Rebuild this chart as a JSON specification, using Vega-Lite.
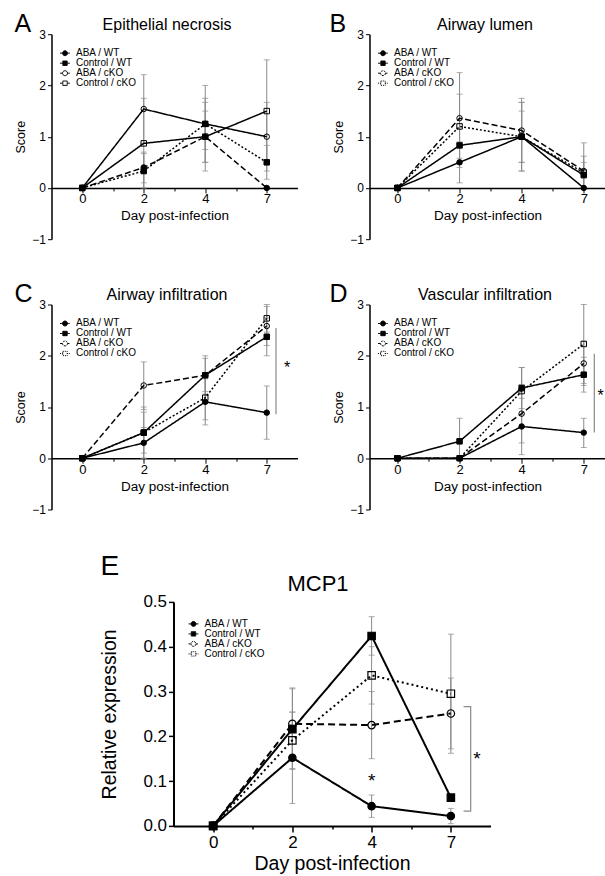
{
  "$schema": "https://vega.github.io/schema/vega-lite/v6.json",
  "padding": {"left": 14.5, "top": 11.2, "right": 0, "bottom": 0},
  "autosize": {"type": "pad"},
  "config": {
    "font": "Liberation Sans",
    "view": {"stroke": null},
    "axis": {"grid": false, "domainColor": "black", "tickColor": "black", "labelColor": "black", "titleColor": "black", "titleFontWeight": "normal", "labelFont": "Liberation Sans", "titleFont": "Liberation Sans", "labelOverlap": false},
    "legend": {"labelFont": "Liberation Sans", "labelColor": "black", "padding": 0},
    "title": {"fontWeight": "normal", "color": "black", "font": "Liberation Sans"}
  },
  "datasets": {
    "A": [
      {"series": "ABA / WT", "day": 0, "idx": 0, "score": 0},
      {"series": "ABA / WT", "day": 2, "idx": 1, "score": 0.40, "lo": 0.10, "hi": 0.70},
      {"series": "ABA / WT", "day": 4, "idx": 2, "score": 1.00, "lo": 0.33, "hi": 1.67},
      {"series": "ABA / WT", "day": 7, "idx": 3, "score": 0.00},
      {"series": "Control / WT", "day": 0, "idx": 0, "score": 0},
      {"series": "Control / WT", "day": 2, "idx": 1, "score": 0.33, "lo": 0.00, "hi": 0.67},
      {"series": "Control / WT", "day": 4, "idx": 2, "score": 1.25, "lo": 0.50, "hi": 2.00},
      {"series": "Control / WT", "day": 7, "idx": 3, "score": 0.50, "lo": 0.17, "hi": 0.83},
      {"series": "ABA / cKO", "day": 0, "idx": 0, "score": 0},
      {"series": "ABA / cKO", "day": 2, "idx": 1, "score": 1.54, "lo": 0.87, "hi": 2.21},
      {"series": "ABA / cKO", "day": 4, "idx": 2, "score": 1.25, "lo": 0.75, "hi": 1.75},
      {"series": "ABA / cKO", "day": 7, "idx": 3, "score": 1.00, "lo": 0.33, "hi": 1.67},
      {"series": "Control / cKO", "day": 0, "idx": 0, "score": 0},
      {"series": "Control / cKO", "day": 2, "idx": 1, "score": 0.87, "lo": 0.00, "hi": 1.75},
      {"series": "Control / cKO", "day": 4, "idx": 2, "score": 1.00, "lo": 0.50, "hi": 1.50},
      {"series": "Control / cKO", "day": 7, "idx": 3, "score": 1.50, "lo": 0.50, "hi": 2.50}
    ],
    "B": [
      {"series": "ABA / WT", "day": 0, "idx": 0, "score": 0},
      {"series": "ABA / WT", "day": 2, "idx": 1, "score": 0.50, "lo": 0.10, "hi": 0.90},
      {"series": "ABA / WT", "day": 4, "idx": 2, "score": 1.00, "lo": 0.33, "hi": 1.67},
      {"series": "ABA / WT", "day": 7, "idx": 3, "score": 0.00},
      {"series": "Control / WT", "day": 0, "idx": 0, "score": 0},
      {"series": "Control / WT", "day": 2, "idx": 1, "score": 0.83, "lo": 0.40, "hi": 1.26},
      {"series": "Control / WT", "day": 4, "idx": 2, "score": 1.00, "lo": 0.50, "hi": 1.50},
      {"series": "Control / WT", "day": 7, "idx": 3, "score": 0.25, "lo": 0.00, "hi": 0.50},
      {"series": "ABA / cKO", "day": 0, "idx": 0, "score": 0},
      {"series": "ABA / cKO", "day": 2, "idx": 1, "score": 1.36, "lo": 0.47, "hi": 2.25},
      {"series": "ABA / cKO", "day": 4, "idx": 2, "score": 1.12, "lo": 0.50, "hi": 1.75},
      {"series": "ABA / cKO", "day": 7, "idx": 3, "score": 0.33, "lo": 0.00, "hi": 0.88},
      {"series": "Control / cKO", "day": 0, "idx": 0, "score": 0},
      {"series": "Control / cKO", "day": 2, "idx": 1, "score": 1.20, "lo": 0.58, "hi": 1.83},
      {"series": "Control / cKO", "day": 4, "idx": 2, "score": 1.00, "lo": 0.33, "hi": 1.67},
      {"series": "Control / cKO", "day": 7, "idx": 3, "score": 0.30, "lo": 0.00, "hi": 0.62}
    ],
    "C": [
      {"series": "ABA / WT", "day": 0, "idx": 0, "score": 0},
      {"series": "ABA / WT", "day": 2, "idx": 1, "score": 0.30, "lo": 0.00, "hi": 0.60},
      {"series": "ABA / WT", "day": 4, "idx": 2, "score": 1.10, "lo": 0.65, "hi": 1.55},
      {"series": "ABA / WT", "day": 7, "idx": 3, "score": 0.89, "lo": 0.37, "hi": 1.41},
      {"series": "Control / WT", "day": 0, "idx": 0, "score": 0},
      {"series": "Control / WT", "day": 2, "idx": 1, "score": 0.50, "lo": 0.10, "hi": 0.90},
      {"series": "Control / WT", "day": 4, "idx": 2, "score": 1.62, "lo": 1.25, "hi": 2.00},
      {"series": "Control / WT", "day": 7, "idx": 3, "score": 2.37, "lo": 2.00, "hi": 2.74},
      {"series": "ABA / cKO", "day": 0, "idx": 0, "score": 0},
      {"series": "ABA / cKO", "day": 2, "idx": 1, "score": 1.42, "lo": 0.95, "hi": 1.88},
      {"series": "ABA / cKO", "day": 4, "idx": 2, "score": 1.62, "lo": 1.30, "hi": 1.95},
      {"series": "ABA / cKO", "day": 7, "idx": 3, "score": 2.58, "lo": 2.20, "hi": 2.96},
      {"series": "Control / cKO", "day": 0, "idx": 0, "score": 0},
      {"series": "Control / cKO", "day": 2, "idx": 1, "score": 0.50, "lo": 0.00, "hi": 1.00},
      {"series": "Control / cKO", "day": 4, "idx": 2, "score": 1.18, "lo": 0.75, "hi": 1.60},
      {"series": "Control / cKO", "day": 7, "idx": 3, "score": 2.73, "lo": 2.46, "hi": 3.00}
    ],
    "D": [
      {"series": "ABA / WT", "day": 0, "idx": 0, "score": 0},
      {"series": "ABA / WT", "day": 2, "idx": 1, "score": 0.00},
      {"series": "ABA / WT", "day": 4, "idx": 2, "score": 0.62, "lo": 0.07, "hi": 1.17},
      {"series": "ABA / WT", "day": 7, "idx": 3, "score": 0.50, "lo": 0.21, "hi": 0.78},
      {"series": "Control / WT", "day": 0, "idx": 0, "score": 0},
      {"series": "Control / WT", "day": 2, "idx": 1, "score": 0.33, "lo": 0.00, "hi": 0.78},
      {"series": "Control / WT", "day": 4, "idx": 2, "score": 1.37, "lo": 0.97, "hi": 1.77},
      {"series": "Control / WT", "day": 7, "idx": 3, "score": 1.63, "lo": 1.29, "hi": 1.97},
      {"series": "ABA / cKO", "day": 0, "idx": 0, "score": 0},
      {"series": "ABA / cKO", "day": 2, "idx": 1, "score": 0.00},
      {"series": "ABA / cKO", "day": 4, "idx": 2, "score": 0.87, "lo": 0.30, "hi": 1.44},
      {"series": "ABA / cKO", "day": 7, "idx": 3, "score": 1.85, "lo": 1.42, "hi": 2.28},
      {"series": "Control / cKO", "day": 0, "idx": 0, "score": 0},
      {"series": "Control / cKO", "day": 2, "idx": 1, "score": 0.00},
      {"series": "Control / cKO", "day": 4, "idx": 2, "score": 1.31, "lo": 0.85, "hi": 1.77},
      {"series": "Control / cKO", "day": 7, "idx": 3, "score": 2.23, "lo": 1.46, "hi": 3.00}
    ],
    "E": [
      {"series": "ABA / WT", "day": 0, "idx": 0, "score": 0},
      {"series": "ABA / WT", "day": 2, "idx": 1, "score": 0.152, "lo": 0.050, "hi": 0.254},
      {"series": "ABA / WT", "day": 4, "idx": 2, "score": 0.044, "lo": 0.019, "hi": 0.069},
      {"series": "ABA / WT", "day": 7, "idx": 3, "score": 0.022, "lo": 0.005, "hi": 0.039},
      {"series": "Control / WT", "day": 0, "idx": 0, "score": 0},
      {"series": "Control / WT", "day": 2, "idx": 1, "score": 0.216, "lo": 0.126, "hi": 0.306},
      {"series": "Control / WT", "day": 4, "idx": 2, "score": 0.424, "lo": 0.381, "hi": 0.467},
      {"series": "Control / WT", "day": 7, "idx": 3, "score": 0.063, "lo": 0.056, "hi": 0.070},
      {"series": "ABA / cKO", "day": 0, "idx": 0, "score": 0},
      {"series": "ABA / cKO", "day": 2, "idx": 1, "score": 0.228, "lo": 0.148, "hi": 0.308},
      {"series": "ABA / cKO", "day": 4, "idx": 2, "score": 0.225, "lo": 0.150, "hi": 0.300},
      {"series": "ABA / cKO", "day": 7, "idx": 3, "score": 0.251, "lo": 0.172, "hi": 0.330},
      {"series": "Control / cKO", "day": 0, "idx": 0, "score": 0},
      {"series": "Control / cKO", "day": 2, "idx": 1, "score": 0.191, "lo": 0.128, "hi": 0.254},
      {"series": "Control / cKO", "day": 4, "idx": 2, "score": 0.336, "lo": 0.272, "hi": 0.400},
      {"series": "Control / cKO", "day": 7, "idx": 3, "score": 0.295, "lo": 0.162, "hi": 0.428}
    ],
    "C_rule": [{"x": 3.15, "y": 0.86, "y2": 2.54}],
    "C_star": [{"x": 3.33, "y": 1.77, "label": "*"}],
    "D_rule": [{"x": 3.17, "y": 0.50, "y2": 2.04}],
    "D_star": [{"x": 3.27, "y": 1.22, "label": "*"}],
    "E_bracket": [
      {"x": 3.16, "y": 0.266, "o": 1},
      {"x": 3.25, "y": 0.266, "o": 2},
      {"x": 3.25, "y": 0.033, "o": 3},
      {"x": 3.16, "y": 0.033, "o": 4}
    ],
    "E_star": [{"x": 3.33, "y": 0.15, "label": "*"}, {"x": 2, "y": 0.10, "label": "*"}]
  },
  "spacing": 36.7,
  "resolve": {"scale": {"strokeDash": "independent", "shape": "independent", "fill": "independent", "x": "independent", "y": "independent"}},
  "vconcat": [
    {
      "spacing": 36.3,
      "resolve": {"scale": {"strokeDash": "independent", "shape": "independent", "fill": "independent", "x": "independent", "y": "independent"}},
      "vconcat": [
        {
          "bounds": "flush",
          "spacing": 72,
          "resolve": {"scale": {"strokeDash": "independent", "shape": "independent", "fill": "independent", "x": "independent", "y": "independent"}},
          "hconcat": [
            {
              "width": 246, "height": 205,
              "title": {"text": "A", "anchor": "start", "frame": "group", "fontSize": 25, "dx": -37, "dy": 20.5, "offset": 0},
              "resolve": {"axis": {"x": "independent", "y": "independent"}, "scale": {"shape": "independent", "fill": "independent", "strokeDash": "independent"}},
              "layer": [
                {"data": {"name": "A"}, "transform": [{"filter": "isValid(datum.lo)"}],
                 "mark": {"type": "errorbar", "color": "#8a8a8a", "thickness": 1, "ticks": {"size": 6, "thickness": 1, "color": "#8a8a8a"}},
                 "encoding": {
                   "x": {"field": "idx", "type": "quantitative", "scale": {"domain": [-0.5, 3.5], "nice": false, "zero": false}, "axis": null},
                   "y": {"field": "lo", "type": "quantitative", "scale": {"domain": [-1, 3], "nice": false, "zero": false}, "axis": null},
                   "y2": {"field": "hi"}}},
                {"data": {"name": "A"}, "mark": {"type": "line", "color": "black", "strokeWidth": 1.5},
                 "encoding": {
                   "x": {"field": "idx", "type": "quantitative", "axis": {"orient": "bottom", "offset": -51.25, "values": [0, 0.5, 1, 1.5, 2, 2.5, 3], "labelExpr": "datum.value % 1 ? '' : ['0','2','4','7'][datum.value]", "tickSize": {"condition": {"test": "datum.value % 1 != 0", "value": 3}, "value": 5}, "labelFontSize": 13, "labelPadding": 0, "title": "Day post-infection", "titleFontSize": 13.5, "titlePadding": 3, "domainWidth": 1.5, "tickWidth": 1}},
                   "y": {"field": "score", "type": "quantitative", "axis": {"orient": "left", "values": [-1, 0, 1, 2, 3], "title": "Score", "titleFontSize": 12.5, "labelFontSize": 12, "tickSize": 4, "labelPadding": 2, "titlePadding": 4, "domainWidth": 1.5}},
                   "strokeDash": {"field": "series", "type": "nominal", "scale": {"domain": ["ABA / WT", "Control / WT", "ABA / cKO", "Control / cKO"], "range": [[6, 3], [2, 2], [1, 0], [1, 0]]}, "legend": null}}},
                {"data": {"name": "A"}, "mark": {"type": "point", "filled": true, "stroke": "black", "strokeWidth": 1, "size": 30, "opacity": 1},
                 "encoding": {
                   "x": {"field": "idx", "type": "quantitative", "axis": {"orient": "top", "title": "Epithelial necrosis", "labels": false, "ticks": false, "domain": false, "titleFontSize": 16, "titlePadding": 2, "titleX": 115}},
                   "y": {"field": "score", "type": "quantitative", "axis": null},
                   "shape": {"field": "series", "type": "nominal", "scale": {"domain": ["ABA / WT", "Control / WT", "ABA / cKO", "Control / cKO"], "range": ["circle", "square", "circle", "square"]}, "legend": null},
                   "fill": {"field": "series", "type": "nominal", "scale": {"domain": ["ABA / WT", "Control / WT", "ABA / cKO", "Control / cKO"], "range": ["black", "black", "transparent", "transparent"]}, "legend": null}}},
                {"data": {"name": "A"}, "transform": [{"filter": "false"}], "mark": {"type": "point", "filled": true, "stroke": "black", "strokeWidth": 1, "opacity": 1},
                 "encoding": {
                   "shape": {"field": "series", "type": "nominal", "scale": {"domain": ["ABA / WT", "Control / WT", "ABA / cKO", "Control / cKO"], "range": ["M-1.8,0L-0.9,0M0.9,0L1.8,0M0.9,0A0.9,0.9,0,1,1,-0.9,0A0.9,0.9,0,1,1,0.9,0Z", "M-1.8,0L-0.8,0M0.8,0L1.8,0M-0.8,-0.8L0.8,-0.8L0.8,0.8L-0.8,0.8Z", "M-1.8,0L-0.9,0M0.9,0L1.8,0M0.9,0A0.9,0.9,0,1,1,-0.9,0A0.9,0.9,0,1,1,0.9,0Z", "M-1.8,0L-0.8,0M0.8,0L1.8,0M-0.8,-0.8L0.8,-0.8L0.8,0.8L-0.8,0.8Z"]}, "legend": {"title": null, "orient": "none", "legendX": 8.5, "legendY": 14, "labelFontSize": 10, "symbolSize": 30, "rowPadding": 0, "labelOffset": 6, "symbolStrokeWidth": 1}},
                   "fill": {"field": "series", "type": "nominal", "scale": {"domain": ["ABA / WT", "Control / WT", "ABA / cKO", "Control / cKO"], "range": ["black", "black", "transparent", "transparent"]}, "legend": {"title": null, "orient": "none", "legendX": 8.5, "legendY": 14, "labelFontSize": 10, "symbolSize": 30, "rowPadding": 0, "labelOffset": 6, "symbolStrokeWidth": 1}},
                   "strokeDash": {"field": "series", "type": "nominal", "scale": {"domain": ["ABA / WT", "Control / WT", "ABA / cKO", "Control / cKO"], "range": [[1, 0], [1, 0], [1, 0], [1, 0]]}, "legend": {"title": null, "orient": "none", "legendX": 8.5, "legendY": 14, "labelFontSize": 10, "symbolSize": 30, "rowPadding": 0, "labelOffset": 6, "symbolStrokeWidth": 1}}}}
              ]
            },
            {
              "width": 236, "height": 205,
              "title": {"text": "B", "anchor": "start", "frame": "group", "fontSize": 25, "dx": -40, "dy": 20.5, "offset": 0},
              "resolve": {"axis": {"x": "independent", "y": "independent"}, "scale": {"shape": "independent", "fill": "independent", "strokeDash": "independent"}},
              "layer": [
                {"data": {"name": "B"}, "transform": [{"filter": "isValid(datum.lo)"}],
                 "mark": {"type": "errorbar", "color": "#8a8a8a", "thickness": 1, "ticks": {"size": 6, "thickness": 1, "color": "#8a8a8a"}},
                 "encoding": {
                   "x": {"field": "idx", "type": "quantitative", "scale": {"domain": [-0.45, 3.35], "nice": false, "zero": false}, "axis": null},
                   "y": {"field": "lo", "type": "quantitative", "scale": {"domain": [-1, 3], "nice": false, "zero": false}, "axis": null},
                   "y2": {"field": "hi"}}},
                {"data": {"name": "B"}, "mark": {"type": "line", "color": "black", "strokeWidth": 1.5},
                 "encoding": {
                   "x": {"field": "idx", "type": "quantitative", "axis": {"orient": "bottom", "offset": -51.25, "values": [0, 0.5, 1, 1.5, 2, 2.5, 3], "labelExpr": "datum.value % 1 ? '' : ['0','2','4','7'][datum.value]", "tickSize": {"condition": {"test": "datum.value % 1 != 0", "value": 3}, "value": 5}, "labelFontSize": 13, "labelPadding": 0, "title": "Day post-infection", "titleFontSize": 13.5, "titlePadding": 3, "domainWidth": 1.5, "tickWidth": 1}},
                   "y": {"field": "score", "type": "quantitative", "axis": {"orient": "left", "values": [-1, 0, 1, 2, 3], "title": "Score", "titleFontSize": 12.5, "labelFontSize": 12, "tickSize": 4, "labelPadding": 2, "titlePadding": 4, "domainWidth": 1.5}},
                   "strokeDash": {"field": "series", "type": "nominal", "scale": {"domain": ["ABA / WT", "Control / WT", "ABA / cKO", "Control / cKO"], "range": [[1, 0], [1, 0], [6, 3], [2, 2]]}, "legend": null}}},
                {"data": {"name": "B"}, "mark": {"type": "point", "filled": true, "stroke": "black", "strokeWidth": 1, "size": 30, "opacity": 1},
                 "encoding": {
                   "x": {"field": "idx", "type": "quantitative", "axis": {"orient": "top", "title": "Airway lumen", "labels": false, "ticks": false, "domain": false, "titleFontSize": 16, "titlePadding": 2, "titleX": 115}},
                   "y": {"field": "score", "type": "quantitative", "axis": null},
                   "shape": {"field": "series", "type": "nominal", "scale": {"domain": ["ABA / WT", "Control / WT", "ABA / cKO", "Control / cKO"], "range": ["circle", "square", "circle", "square"]}, "legend": null},
                   "fill": {"field": "series", "type": "nominal", "scale": {"domain": ["ABA / WT", "Control / WT", "ABA / cKO", "Control / cKO"], "range": ["black", "black", "transparent", "transparent"]}, "legend": null}}},
                {"data": {"name": "B"}, "transform": [{"filter": "false"}], "mark": {"type": "point", "filled": true, "stroke": "black", "strokeWidth": 1, "opacity": 1},
                 "encoding": {
                   "shape": {"field": "series", "type": "nominal", "scale": {"domain": ["ABA / WT", "Control / WT", "ABA / cKO", "Control / cKO"], "range": ["M-1.8,0L-0.9,0M0.9,0L1.8,0M0.9,0A0.9,0.9,0,1,1,-0.9,0A0.9,0.9,0,1,1,0.9,0Z", "M-1.8,0L-0.8,0M0.8,0L1.8,0M-0.8,-0.8L0.8,-0.8L0.8,0.8L-0.8,0.8Z", "M-1.8,0L-0.9,0M0.9,0L1.8,0M0.9,0A0.9,0.9,0,1,1,-0.9,0A0.9,0.9,0,1,1,0.9,0Z", "M-1.8,0L-0.8,0M0.8,0L1.8,0M-0.8,-0.8L0.8,-0.8L0.8,0.8L-0.8,0.8Z"]}, "legend": {"title": null, "orient": "none", "legendX": 8.5, "legendY": 14, "labelFontSize": 10, "symbolSize": 30, "rowPadding": 0, "labelOffset": 6, "symbolStrokeWidth": 1}},
                   "fill": {"field": "series", "type": "nominal", "scale": {"domain": ["ABA / WT", "Control / WT", "ABA / cKO", "Control / cKO"], "range": ["black", "black", "transparent", "transparent"]}, "legend": {"title": null, "orient": "none", "legendX": 8.5, "legendY": 14, "labelFontSize": 10, "symbolSize": 30, "rowPadding": 0, "labelOffset": 6, "symbolStrokeWidth": 1}},
                   "strokeDash": {"field": "series", "type": "nominal", "scale": {"domain": ["ABA / WT", "Control / WT", "ABA / cKO", "Control / cKO"], "range": [[1, 0], [1, 0], [2, 1], [1, 1]]}, "legend": {"title": null, "orient": "none", "legendX": 8.5, "legendY": 14, "labelFontSize": 10, "symbolSize": 30, "rowPadding": 0, "labelOffset": 6, "symbolStrokeWidth": 1}}}}
              ]
            }
          ]
        },
        {
          "bounds": "flush",
          "spacing": 72,
          "resolve": {"scale": {"strokeDash": "independent", "shape": "independent", "fill": "independent", "x": "independent", "y": "independent"}},
          "hconcat": [
            {
              "width": 246, "height": 205,
              "title": {"text": "C", "anchor": "start", "frame": "group", "fontSize": 25, "dx": -37, "dy": 20.5, "offset": 0},
              "resolve": {"axis": {"x": "independent", "y": "independent"}, "scale": {"shape": "independent", "fill": "independent", "strokeDash": "independent"}},
              "layer": [
                {"data": {"name": "C"}, "transform": [{"filter": "isValid(datum.lo)"}],
                 "mark": {"type": "errorbar", "color": "#8a8a8a", "thickness": 1, "ticks": {"size": 6, "thickness": 1, "color": "#8a8a8a"}},
                 "encoding": {
                   "x": {"field": "idx", "type": "quantitative", "scale": {"domain": [-0.5, 3.5], "nice": false, "zero": false}, "axis": null},
                   "y": {"field": "lo", "type": "quantitative", "scale": {"domain": [-1, 3], "nice": false, "zero": false}, "axis": null},
                   "y2": {"field": "hi"}}},
                {"data": {"name": "C"}, "mark": {"type": "line", "color": "black", "strokeWidth": 1.5},
                 "encoding": {
                   "x": {"field": "idx", "type": "quantitative", "axis": {"orient": "bottom", "offset": -51.25, "values": [0, 0.5, 1, 1.5, 2, 2.5, 3], "labelExpr": "datum.value % 1 ? '' : ['0','2','4','7'][datum.value]", "tickSize": {"condition": {"test": "datum.value % 1 != 0", "value": 3}, "value": 5}, "labelFontSize": 13, "labelPadding": 0, "title": "Day post-infection", "titleFontSize": 13.5, "titlePadding": 3, "domainWidth": 1.5, "tickWidth": 1}},
                   "y": {"field": "score", "type": "quantitative", "axis": {"orient": "left", "values": [-1, 0, 1, 2, 3], "title": "Score", "titleFontSize": 12.5, "labelFontSize": 12, "tickSize": 4, "labelPadding": 2, "titlePadding": 4, "domainWidth": 1.5}},
                   "strokeDash": {"field": "series", "type": "nominal", "scale": {"domain": ["ABA / WT", "Control / WT", "ABA / cKO", "Control / cKO"], "range": [[1, 0], [1, 0], [6, 3], [2, 2]]}, "legend": null}}},
                {"data": {"name": "C"}, "mark": {"type": "point", "filled": true, "stroke": "black", "strokeWidth": 1, "size": 30, "opacity": 1},
                 "encoding": {
                   "x": {"field": "idx", "type": "quantitative", "axis": {"orient": "top", "title": "Airway infiltration", "labels": false, "ticks": false, "domain": false, "titleFontSize": 16, "titlePadding": 2, "titleX": 115}},
                   "y": {"field": "score", "type": "quantitative", "axis": null},
                   "shape": {"field": "series", "type": "nominal", "scale": {"domain": ["ABA / WT", "Control / WT", "ABA / cKO", "Control / cKO"], "range": ["circle", "square", "circle", "square"]}, "legend": null},
                   "fill": {"field": "series", "type": "nominal", "scale": {"domain": ["ABA / WT", "Control / WT", "ABA / cKO", "Control / cKO"], "range": ["black", "black", "transparent", "transparent"]}, "legend": null}}},
                {"data": {"name": "C"}, "transform": [{"filter": "false"}], "mark": {"type": "point", "filled": true, "stroke": "black", "strokeWidth": 1, "opacity": 1},
                 "encoding": {
                   "shape": {"field": "series", "type": "nominal", "scale": {"domain": ["ABA / WT", "Control / WT", "ABA / cKO", "Control / cKO"], "range": ["M-1.8,0L-0.9,0M0.9,0L1.8,0M0.9,0A0.9,0.9,0,1,1,-0.9,0A0.9,0.9,0,1,1,0.9,0Z", "M-1.8,0L-0.8,0M0.8,0L1.8,0M-0.8,-0.8L0.8,-0.8L0.8,0.8L-0.8,0.8Z", "M-1.8,0L-0.9,0M0.9,0L1.8,0M0.9,0A0.9,0.9,0,1,1,-0.9,0A0.9,0.9,0,1,1,0.9,0Z", "M-1.8,0L-0.8,0M0.8,0L1.8,0M-0.8,-0.8L0.8,-0.8L0.8,0.8L-0.8,0.8Z"]}, "legend": {"title": null, "orient": "none", "legendX": 8.5, "legendY": 14, "labelFontSize": 10, "symbolSize": 30, "rowPadding": 0, "labelOffset": 6, "symbolStrokeWidth": 1}},
                   "fill": {"field": "series", "type": "nominal", "scale": {"domain": ["ABA / WT", "Control / WT", "ABA / cKO", "Control / cKO"], "range": ["black", "black", "transparent", "transparent"]}, "legend": {"title": null, "orient": "none", "legendX": 8.5, "legendY": 14, "labelFontSize": 10, "symbolSize": 30, "rowPadding": 0, "labelOffset": 6, "symbolStrokeWidth": 1}},
                   "strokeDash": {"field": "series", "type": "nominal", "scale": {"domain": ["ABA / WT", "Control / WT", "ABA / cKO", "Control / cKO"], "range": [[1, 0], [1, 0], [2, 1], [1, 1]]}, "legend": {"title": null, "orient": "none", "legendX": 8.5, "legendY": 14, "labelFontSize": 10, "symbolSize": 30, "rowPadding": 0, "labelOffset": 6, "symbolStrokeWidth": 1}}}},
                {"data": {"name": "C_rule"}, "mark": {"type": "rule", "color": "#8a8a8a", "strokeWidth": 1.2},
                 "encoding": {"x": {"field": "x", "type": "quantitative", "axis": null}, "y": {"field": "y", "type": "quantitative", "axis": null}, "y2": {"field": "y2"}}},
                {"data": {"name": "C_star"}, "mark": {"type": "text", "fontSize": 16, "baseline": "middle", "color": "black"},
                 "encoding": {"x": {"field": "x", "type": "quantitative", "axis": null}, "y": {"field": "y", "type": "quantitative", "axis": null}, "text": {"field": "label"}}}
              ]
            },
            {
              "width": 236, "height": 205,
              "title": {"text": "D", "anchor": "start", "frame": "group", "fontSize": 25, "dx": -40, "dy": 20.5, "offset": 0},
              "resolve": {"axis": {"x": "independent", "y": "independent"}, "scale": {"shape": "independent", "fill": "independent", "strokeDash": "independent"}},
              "layer": [
                {"data": {"name": "D"}, "transform": [{"filter": "isValid(datum.lo)"}],
                 "mark": {"type": "errorbar", "color": "#8a8a8a", "thickness": 1, "ticks": {"size": 6, "thickness": 1, "color": "#8a8a8a"}},
                 "encoding": {
                   "x": {"field": "idx", "type": "quantitative", "scale": {"domain": [-0.45, 3.35], "nice": false, "zero": false}, "axis": null},
                   "y": {"field": "lo", "type": "quantitative", "scale": {"domain": [-1, 3], "nice": false, "zero": false}, "axis": null},
                   "y2": {"field": "hi"}}},
                {"data": {"name": "D"}, "mark": {"type": "line", "color": "black", "strokeWidth": 1.5},
                 "encoding": {
                   "x": {"field": "idx", "type": "quantitative", "axis": {"orient": "bottom", "offset": -51.25, "values": [0, 0.5, 1, 1.5, 2, 2.5, 3], "labelExpr": "datum.value % 1 ? '' : ['0','2','4','7'][datum.value]", "tickSize": {"condition": {"test": "datum.value % 1 != 0", "value": 3}, "value": 5}, "labelFontSize": 13, "labelPadding": 0, "title": "Day post-infection", "titleFontSize": 13.5, "titlePadding": 3, "domainWidth": 1.5, "tickWidth": 1}},
                   "y": {"field": "score", "type": "quantitative", "axis": {"orient": "left", "values": [-1, 0, 1, 2, 3], "title": "Score", "titleFontSize": 12.5, "labelFontSize": 12, "tickSize": 4, "labelPadding": 2, "titlePadding": 4, "domainWidth": 1.5}},
                   "strokeDash": {"field": "series", "type": "nominal", "scale": {"domain": ["ABA / WT", "Control / WT", "ABA / cKO", "Control / cKO"], "range": [[1, 0], [1, 0], [6, 3], [2, 2]]}, "legend": null}}},
                {"data": {"name": "D"}, "mark": {"type": "point", "filled": true, "stroke": "black", "strokeWidth": 1, "size": 30, "opacity": 1},
                 "encoding": {
                   "x": {"field": "idx", "type": "quantitative", "axis": {"orient": "top", "title": "Vascular infiltration", "labels": false, "ticks": false, "domain": false, "titleFontSize": 16, "titlePadding": 2, "titleX": 115}},
                   "y": {"field": "score", "type": "quantitative", "axis": null},
                   "shape": {"field": "series", "type": "nominal", "scale": {"domain": ["ABA / WT", "Control / WT", "ABA / cKO", "Control / cKO"], "range": ["circle", "square", "circle", "square"]}, "legend": null},
                   "fill": {"field": "series", "type": "nominal", "scale": {"domain": ["ABA / WT", "Control / WT", "ABA / cKO", "Control / cKO"], "range": ["black", "black", "transparent", "transparent"]}, "legend": null}}},
                {"data": {"name": "D"}, "transform": [{"filter": "false"}], "mark": {"type": "point", "filled": true, "stroke": "black", "strokeWidth": 1, "opacity": 1},
                 "encoding": {
                   "shape": {"field": "series", "type": "nominal", "scale": {"domain": ["ABA / WT", "Control / WT", "ABA / cKO", "Control / cKO"], "range": ["M-1.8,0L-0.9,0M0.9,0L1.8,0M0.9,0A0.9,0.9,0,1,1,-0.9,0A0.9,0.9,0,1,1,0.9,0Z", "M-1.8,0L-0.8,0M0.8,0L1.8,0M-0.8,-0.8L0.8,-0.8L0.8,0.8L-0.8,0.8Z", "M-1.8,0L-0.9,0M0.9,0L1.8,0M0.9,0A0.9,0.9,0,1,1,-0.9,0A0.9,0.9,0,1,1,0.9,0Z", "M-1.8,0L-0.8,0M0.8,0L1.8,0M-0.8,-0.8L0.8,-0.8L0.8,0.8L-0.8,0.8Z"]}, "legend": {"title": null, "orient": "none", "legendX": 8.5, "legendY": 14, "labelFontSize": 10, "symbolSize": 30, "rowPadding": 0, "labelOffset": 6, "symbolStrokeWidth": 1}},
                   "fill": {"field": "series", "type": "nominal", "scale": {"domain": ["ABA / WT", "Control / WT", "ABA / cKO", "Control / cKO"], "range": ["black", "black", "transparent", "transparent"]}, "legend": {"title": null, "orient": "none", "legendX": 8.5, "legendY": 14, "labelFontSize": 10, "symbolSize": 30, "rowPadding": 0, "labelOffset": 6, "symbolStrokeWidth": 1}},
                   "strokeDash": {"field": "series", "type": "nominal", "scale": {"domain": ["ABA / WT", "Control / WT", "ABA / cKO", "Control / cKO"], "range": [[1, 0], [1, 0], [2, 1], [1, 1]]}, "legend": {"title": null, "orient": "none", "legendX": 8.5, "legendY": 14, "labelFontSize": 10, "symbolSize": 30, "rowPadding": 0, "labelOffset": 6, "symbolStrokeWidth": 1}}}},
                {"data": {"name": "D_rule"}, "mark": {"type": "rule", "color": "#8a8a8a", "strokeWidth": 1.2},
                 "encoding": {"x": {"field": "x", "type": "quantitative", "axis": null}, "y": {"field": "y", "type": "quantitative", "axis": null}, "y2": {"field": "y2"}}},
                {"data": {"name": "D_star"}, "mark": {"type": "text", "fontSize": 16, "baseline": "middle", "color": "black"},
                 "encoding": {"x": {"field": "x", "type": "quantitative", "axis": null}, "y": {"field": "y", "type": "quantitative", "axis": null}, "text": {"field": "label"}}}
              ]
            }
          ]
        }
      ]
    },
    {
      "spacing": 0,
      "resolve": {"scale": {"strokeDash": "independent", "shape": "independent", "fill": "independent", "x": "independent", "y": "independent"}},
      "hconcat": [
        {"width": 48, "height": 10, "data": {"values": [{}]}, "mark": {"type": "rect", "opacity": 0}, "encoding": {}},
        {
          "width": 317, "height": 224,
          "title": {"text": "E", "anchor": "start", "frame": "group", "fontSize": 28, "dx": -73, "dy": 8, "offset": 0},
          "resolve": {"axis": {"x": "independent", "y": "independent"}, "scale": {"shape": "independent", "fill": "independent", "strokeDash": "independent"}},
          "layer": [
            {"data": {"name": "E"}, "transform": [{"filter": "isValid(datum.lo)"}],
             "mark": {"type": "errorbar", "color": "#8a8a8a", "thickness": 1, "ticks": {"size": 6, "thickness": 1, "color": "#8a8a8a"}},
             "encoding": {
               "x": {"field": "idx", "type": "quantitative", "scale": {"domain": [-0.5, 3.5], "nice": false, "zero": false}, "axis": null},
               "y": {"field": "lo", "type": "quantitative", "scale": {"domain": [0, 0.5], "nice": false}, "axis": null},
               "y2": {"field": "hi"}}},
            {"data": {"name": "E"}, "mark": {"type": "line", "color": "black", "strokeWidth": 2},
             "encoding": {
               "x": {"field": "idx", "type": "quantitative", "axis": {"orient": "bottom", "values": [0, 0.5, 1, 1.5, 2, 2.5, 3], "labelExpr": "datum.value % 1 ? '' : ['0','2','4','7'][datum.value]", "tickSize": {"condition": {"test": "datum.value % 1 != 0", "value": 3}, "value": 6}, "labelFontSize": 17, "labelPadding": 3, "title": "Day post-infection", "titleFontSize": 19.5, "titlePadding": 4, "domainWidth": 2, "tickWidth": 1.5}},
               "y": {"field": "score", "type": "quantitative", "axis": {"orient": "left", "values": [0, 0.1, 0.2, 0.3, 0.4, 0.5], "format": ".1f", "title": "Relative expression", "titleFontSize": 19.5, "labelFontSize": 17, "tickSize": 5, "labelPadding": 2, "titlePadding": 23, "domainWidth": 2, "tickWidth": 1.5}},
               "strokeDash": {"field": "series", "type": "nominal", "scale": {"domain": ["ABA / WT", "Control / WT", "ABA / cKO", "Control / cKO"], "range": [[1, 0], [1, 0], [7, 4], [2, 3]]}, "legend": null}}},
            {"data": {"name": "E"}, "mark": {"type": "point", "filled": true, "stroke": "black", "strokeWidth": 1.2, "size": 55, "opacity": 1},
             "encoding": {
               "x": {"field": "idx", "type": "quantitative", "axis": {"orient": "top", "title": "MCP1", "labels": false, "ticks": false, "domain": false, "titleFontSize": 22, "titlePadding": 6, "titleX": 144}},
               "y": {"field": "score", "type": "quantitative", "axis": null},
               "shape": {"field": "series", "type": "nominal", "scale": {"domain": ["ABA / WT", "Control / WT", "ABA / cKO", "Control / cKO"], "range": ["circle", "square", "circle", "square"]}, "legend": null},
               "fill": {"field": "series", "type": "nominal", "scale": {"domain": ["ABA / WT", "Control / WT", "ABA / cKO", "Control / cKO"], "range": ["black", "black", "transparent", "transparent"]}, "legend": null}}},
            {"data": {"name": "E"}, "transform": [{"filter": "false"}], "mark": {"type": "point", "filled": true, "stroke": "black", "strokeWidth": 1, "opacity": 1},
             "encoding": {
               "shape": {"field": "series", "type": "nominal", "scale": {"domain": ["ABA / WT", "Control / WT", "ABA / cKO", "Control / cKO"], "range": ["M-1.8,0L-0.9,0M0.9,0L1.8,0M0.9,0A0.9,0.9,0,1,1,-0.9,0A0.9,0.9,0,1,1,0.9,0Z", "M-1.8,0L-0.8,0M0.8,0L1.8,0M-0.8,-0.8L0.8,-0.8L0.8,0.8L-0.8,0.8Z", "M-1.8,0L-0.9,0M0.9,0L1.8,0M0.9,0A0.9,0.9,0,1,1,-0.9,0A0.9,0.9,0,1,1,0.9,0Z", "M-1.8,0L-0.8,0M0.8,0L1.8,0M-0.8,-0.8L0.8,-0.8L0.8,0.8L-0.8,0.8Z"]}, "legend": {"title": null, "orient": "none", "legendX": 15, "legendY": 17, "labelFontSize": 10, "symbolSize": 30, "rowPadding": 0, "labelOffset": 6, "symbolStrokeWidth": 1}},
               "fill": {"field": "series", "type": "nominal", "scale": {"domain": ["ABA / WT", "Control / WT", "ABA / cKO", "Control / cKO"], "range": ["black", "black", "transparent", "transparent"]}, "legend": {"title": null, "orient": "none", "legendX": 15, "legendY": 17, "labelFontSize": 10, "symbolSize": 30, "rowPadding": 0, "labelOffset": 6, "symbolStrokeWidth": 1}},
               "strokeDash": {"field": "series", "type": "nominal", "scale": {"domain": ["ABA / WT", "Control / WT", "ABA / cKO", "Control / cKO"], "range": [[1, 0], [1, 0], [2, 1], [1, 1]]}, "legend": {"title": null, "orient": "none", "legendX": 15, "legendY": 17, "labelFontSize": 10, "symbolSize": 30, "rowPadding": 0, "labelOffset": 6, "symbolStrokeWidth": 1}}}},
            {"data": {"name": "E_bracket"}, "mark": {"type": "line", "color": "#8a8a8a", "strokeWidth": 1.2},
             "encoding": {"x": {"field": "x", "type": "quantitative", "axis": null}, "y": {"field": "y", "type": "quantitative", "axis": null}, "order": {"field": "o"}}},
            {"data": {"name": "E_star"}, "mark": {"type": "text", "fontSize": 19, "baseline": "middle", "color": "black"},
             "encoding": {"x": {"field": "x", "type": "quantitative", "axis": null}, "y": {"field": "y", "type": "quantitative", "axis": null}, "text": {"field": "label"}}}
          ]
        }
      ]
    }
  ]
}
